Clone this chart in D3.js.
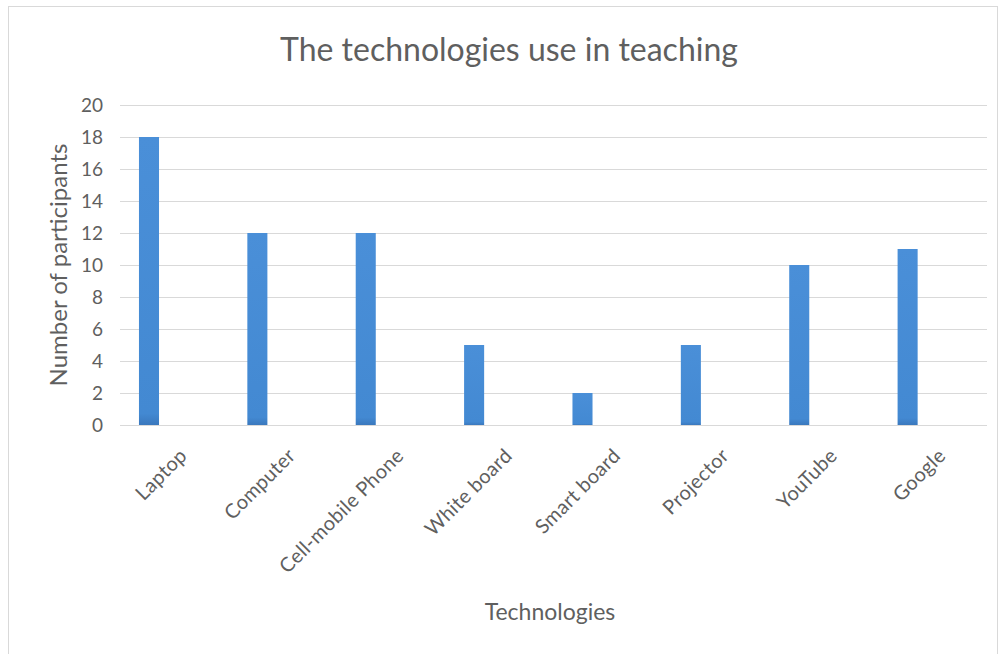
<!DOCTYPE html>
<html>
<head>
<meta charset="utf-8">
<script src="https://cdn.jsdelivr.net/npm/d3@7"></script>
<style>
  html, body { margin: 0; padding: 0; background: #ffffff; }
  svg { display: block; }
  text { font-family: Lato, "Open Sans", sans-serif; fill: #5f5f5f; }
</style>
</head>
<body>
<svg id="chart" width="999" height="654"></svg>
<script>
// Technologies used in teaching, with participant counts
const categories = ["Laptop", "Computer", "Cell-mobile Phone", "White board", "Smart board", "Projector", "YouTube", "Google"];
const participants = [18, 12, 12, 5, 2, 5, 10, 11];
const yTicks = [0, 2, 4, 6, 8, 10, 12, 14, 16, 18, 20];

const svg = d3.select("#chart");
const W = 999, H = 654;
const plot = { left: 120, right: 987, top: 105, bottom: 425 };

// outer chart border
svg.append("rect")
  .attr("x", 8.5).attr("y", 6.5)
  .attr("width", W - 10).attr("height", H)
  .attr("fill", "#ffffff")
  .attr("stroke", "#d9d9d9");

const x = d3.scaleBand().domain(categories).range([plot.left, plot.right]);
const y = d3.scaleLinear().domain([0, 20]).range([plot.bottom, plot.top]);

// horizontal gridlines
svg.append("g")
  .selectAll("line")
  .data(yTicks)
  .join("line")
  .attr("x1", plot.left).attr("x2", plot.right)
  .attr("y1", d => Math.round(y(d)) + 0.5)
  .attr("y2", d => Math.round(y(d)) + 0.5)
  .attr("stroke", "#d9d9d9")
  .attr("stroke-width", 1);

// y axis tick labels
const yAxis = d3.axisLeft(y).tickValues(yTicks).tickSize(0).tickPadding(0);
const yg = svg.append("g").attr("transform", `translate(${plot.left - 17},0)`).call(yAxis);
yg.select(".domain").remove();
yg.selectAll("text")
  .style("font-family", "Lato, 'Open Sans', sans-serif")
  .style("font-size", "19px")
  .attr("fill", "#5f5f5f");

// bars sit left of the category centre, as in a clustered layout
const barOffset = x.bandwidth() * 0.175;
const barWidth = x.bandwidth() * 0.185;
const barGrad = svg.append("defs").append("linearGradient")
  .attr("id", "barFill").attr("x1", 0).attr("x2", 0).attr("y1", 0).attr("y2", 1);
barGrad.append("stop").attr("offset", "0%").attr("stop-color", "#4a8fd8");
barGrad.append("stop").attr("offset", "96%").attr("stop-color", "#4389d2");
barGrad.append("stop").attr("offset", "100%").attr("stop-color", "#3a78bd");

svg.append("g")
  .selectAll("rect")
  .data(categories.map((c, i) => ({ c, v: participants[i] })))
  .join("rect")
  .attr("x", d => x(d.c) + barOffset)
  .attr("width", barWidth)
  .attr("y", d => y(d.v))
  .attr("height", d => y(0) - y(d.v))
  .attr("fill", "url(#barFill)");

// x axis category labels, rotated
const xAxis = d3.axisBottom(x).tickSize(0).tickPadding(0);
const xg = svg.append("g").attr("transform", `translate(0,${plot.bottom})`).call(xAxis);
xg.select(".domain").remove();
xg.selectAll("text")
  .style("font-family", "Lato, 'Open Sans', sans-serif")
  .style("font-size", "20px")
  .style("letter-spacing", "0.3px")
  .attr("fill", "#5f5f5f")
  .attr("text-anchor", "end")
  .attr("dy", 0)
  .attr("transform", "translate(14,32) rotate(-45)");

// chart title
svg.append("text")
  .attr("x", 509).attr("y", 61)
  .attr("text-anchor", "middle")
  .style("font-size", "32px")
  .text("The technologies use in teaching");

// axis titles
svg.append("text")
  .attr("transform", `translate(67,265) rotate(-90)`)
  .attr("text-anchor", "middle")
  .style("font-size", "24px")
  .text("Number of participants");

svg.append("text")
  .attr("x", 550).attr("y", 620)
  .attr("text-anchor", "middle")
  .style("font-size", "23px")
  .text("Technologies");
</script>
</body>
</html>
